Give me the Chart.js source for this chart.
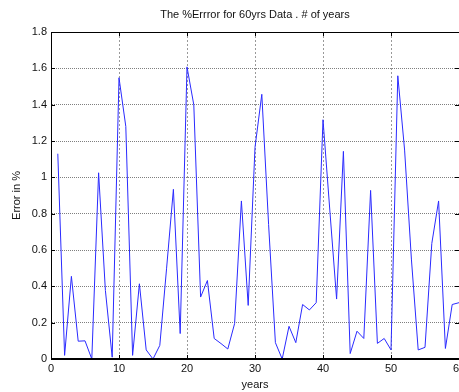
<!DOCTYPE html>
<html>
<head>
<meta charset="utf-8">
<script src="https://cdn.jsdelivr.net/npm/chart.js@4.4.1/dist/chart.umd.min.js"></script>
<style>
  html, body { margin: 0; padding: 0; background: #fff; overflow: hidden; }
  #wrap { width: 459px; height: 392px; overflow: hidden; }
  #box { position: relative; width: 480px; height: 392px; }
</style>
</head>
<body>
<div id="wrap"><div id="box"><canvas id="errChart"></canvas></div></div>
<script>
'use strict';

var chartTitle = 'The %Errror for 60yrs Data . # of years';
var years = [1, 2, 3, 4, 5, 6, 7, 8, 9, 10, 11, 12, 13, 14, 15, 16, 17, 18, 19, 20,
  21, 22, 23, 24, 25, 26, 27, 28, 29, 30, 31, 32, 33, 34, 35, 36, 37, 38, 39, 40,
  41, 42, 43, 44, 45, 46, 47, 48, 49, 50, 51, 52, 53, 54, 55, 56, 57, 58, 59, 60];
var errorPct = [1.13, 0.02, 0.455, 0.098, 0.10, 0.0, 1.025, 0.377, 0.01, 1.548,
  1.28, 0.02, 0.414, 0.05, 0.0, 0.075, 0.5, 0.934, 0.14, 1.608,
  1.399, 0.341, 0.432, 0.113, 0.085, 0.055, 0.195, 0.87, 0.295, 1.165,
  1.457, 0.74, 0.09, 0.0, 0.18, 0.09, 0.30, 0.27, 0.31, 1.317,
  0.82, 0.33, 1.143, 0.03, 0.153, 0.113, 0.928, 0.086, 0.113, 0.05,
  1.559, 1.15, 0.55, 0.05, 0.064, 0.636, 0.87, 0.058, 0.30, 0.31];
var xTicks = [0, 10, 20, 30, 40, 50, 60];
var yTicks = [0, 0.2, 0.4, 0.6, 0.8, 1, 1.2, 1.4, 1.6, 1.8];

var FONT = 'Arial, "Liberation Sans", sans-serif';

// MATLAB-like box: top/right border, inward tick marks, title over the axes
var matlabBox = {
  id: 'matlabBox',
  afterDraw: function (chart) {
    var ctx = chart.ctx, a = chart.chartArea;
    var xs = chart.scales.x, ys = chart.scales.y;
    ctx.save();
    ctx.strokeStyle = '#000';
    ctx.lineWidth = 1;
    ctx.strokeRect(Math.round(a.left) + 0.5, Math.round(a.top) + 0.5,
      Math.round(a.right - a.left), Math.round(a.bottom - a.top) - 1);
    ctx.beginPath();
    xTicks.forEach(function (v) {
      var px = Math.round(xs.getPixelForValue(v)) + 0.5;
      ctx.moveTo(px, a.bottom); ctx.lineTo(px, a.bottom - 4);
      ctx.moveTo(px, a.top); ctx.lineTo(px, a.top + 4);
    });
    yTicks.forEach(function (v) {
      var py = Math.round(ys.getPixelForValue(v)) + 0.5;
      ctx.moveTo(a.left, py); ctx.lineTo(a.left + 4, py);
      ctx.moveTo(a.right, py); ctx.lineTo(a.right - 4, py);
    });
    ctx.stroke();
    ctx.fillStyle = '#111';
    ctx.font = '11px ' + FONT;
    ctx.textAlign = 'center';
    ctx.textBaseline = 'middle';
    ctx.fillText(chartTitle, (a.left + a.right) / 2, 15);
    ctx.restore();
  }
};

new Chart(document.getElementById('errChart').getContext('2d'), {
  type: 'line',
  data: {
    labels: years,
    datasets: [{
      label: 'Error',
      data: years.map(function (y, i) { return { x: y, y: errorPct[i] }; }),
      borderColor: '#2a2aff',
      borderWidth: 1,
      pointRadius: 0,
      tension: 0,
      fill: false
    }]
  },
  options: {
    animation: false,
    responsive: true,
    maintainAspectRatio: false,
    devicePixelRatio: 1,
    layout: { padding: { top: 32, right: 21, left: 0, bottom: 0 } },
    plugins: { legend: { display: false }, title: { display: false }, tooltip: { enabled: false } },
    scales: {
      x: {
        type: 'linear', min: 0, max: 60,
        afterBuildTicks: function (s) { s.ticks = xTicks.map(function (v) { return { value: v }; }); },
        afterFit: function (s) { s.height = 33; },
        grid: { color: 'rgba(0,0,0,0.4)', drawTicks: false, lineWidth: 1 },
        border: { color: '#000', dash: [2, 2], width: 1 },
        ticks: { padding: 3, color: '#111', font: { family: FONT, size: 11 }, maxRotation: 0 },
        title: { display: true, text: 'years', color: '#111', font: { family: FONT, size: 11 }, padding: { top: 0, bottom: 0 } }
      },
      y: {
        min: 0, max: 1.8,
        afterBuildTicks: function (s) { s.ticks = yTicks.map(function (v) { return { value: v }; }); },
        afterFit: function (s) { s.width = 51; },
        grid: { color: 'rgba(0,0,0,0.5)', drawTicks: false, lineWidth: 1 },
        border: { color: '#000', dash: [1, 1], width: 1 },
        ticks: { padding: 4, color: '#111', font: { family: FONT, size: 11 },
          callback: function (v) { return String(Math.round(v * 10) / 10); } },
        title: { display: true, text: 'Error in %', color: '#111', font: { family: FONT, size: 11 }, padding: { top: 10, bottom: 0 } }
      }
    }
  },
  plugins: [matlabBox]
});
</script>
</body>
</html>
